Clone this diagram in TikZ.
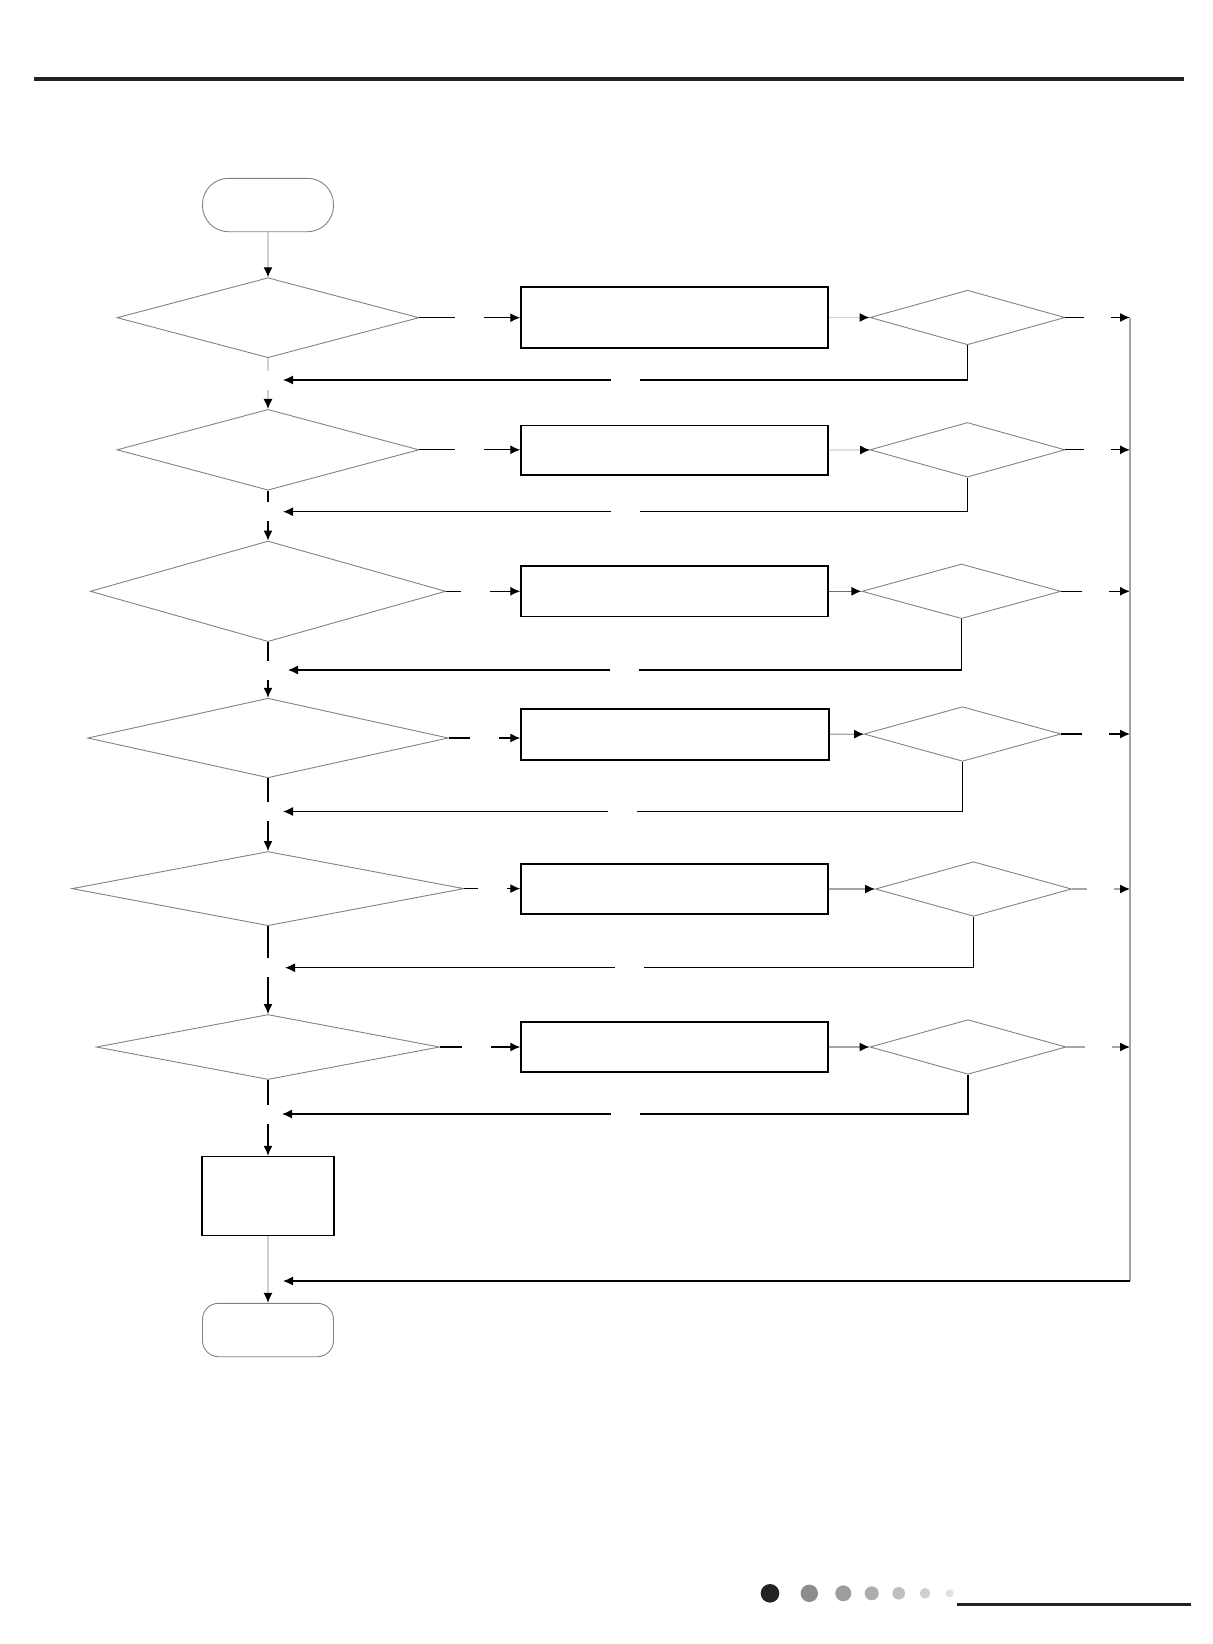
\documentclass[tikz,border=0pt]{standalone}
\usepackage{xcolor}
\usepackage{tikz}
\usetikzlibrary{shapes.geometric, arrows.meta}
\definecolor{outline}{HTML}{828282}
\definecolor{faint}{HTML}{D0D0D0}
\definecolor{midgray}{HTML}{707070}
\definecolor{softgray}{HTML}{A6A6A6}
\definecolor{rulegray}{HTML}{222222}

\begin{document}
\begin{tikzpicture}[
  x=0.5pt, y=-0.5pt,
  decision/.style={diamond, draw=outline, line width=0.45pt, inner sep=0pt},
  check/.style={diamond, draw=outline, line width=0.45pt, inner sep=0pt, minimum width=97.5pt, minimum height=27.3pt},
  action/.style={rectangle, draw=black, line width=0.75pt, inner sep=0pt, minimum width=153.5pt},
  terminal/.style={rectangle, draw=outline, line width=0.45pt, inner sep=0pt, minimum width=65.5pt, minimum height=26.7pt},
  flow/.style={line width=0.6pt, -{Latex[length=5pt,width=4.5pt,color=black]}},
  hgap/.style={fill=white, inner sep=0pt, minimum width=14.5pt, minimum height=3pt},
  vgap/.style={fill=white, inner sep=0pt, minimum width=3pt, minimum height=9.5pt},
]
\useasboundingbox (0,0) rectangle (1213,1644);

% page rule
\draw[line width=2pt, rulegray] (34,78.7) -- (1184,78.7);

\node[terminal, rounded corners=13pt] (start) at (268,205) {};

\node[decision, minimum width=151pt, minimum height=40pt] (d1) at (268,317.7) {};
\node[action, minimum height=30.5pt] (b1) at (674.5,317.5) {};
\node[check] (s1) at (967.5,317.5) {};
\coordinate (r1) at (283,380);

\node[decision, minimum width=151pt, minimum height=40.4pt] (d2) at (268,449.8) {};
\node[action, minimum height=24.7pt] (b2) at (674.5,450.3) {};
\node[check] (s2) at (967.5,449.8) {};
\coordinate (r2) at (283,511.7);

\node[decision, minimum width=177.7pt, minimum height=50.3pt] (d3) at (268,591.3) {};
\node[action, minimum height=25.2pt] (b3) at (674.5,591.3) {};
\node[check, minimum width=99.5pt] (s3) at (961.4,591.3) {};
\coordinate (r3) at (288,670);

\node[decision, minimum width=180.3pt, minimum height=39.8pt] (d4) at (268,738) {};
\node[action, minimum width=154pt, minimum height=25.6pt] (b4) at (675,734.4) {};
\node[check, minimum width=98.5pt] (s4) at (962.5,734) {};
\coordinate (r4) at (283,811.5);

\node[decision, minimum width=196pt, minimum height=37.1pt] (d5) at (268,888.6) {};
\node[action, minimum height=25pt] (b5) at (674.5,889) {};
\node[check, minimum width=98pt] (s5) at (973.5,889) {};
\coordinate (r5) at (285,967.7);

\node[decision, minimum width=171.7pt, minimum height=32.5pt] (d6) at (268,1047) {};
\node[action, minimum height=25.2pt] (b6) at (674.5,1047) {};
\node[check, minimum width=98pt] (s6) at (968,1047) {};
\coordinate (r6) at (282,1114);

\node[rectangle, draw=black, line width=0.75pt, minimum width=66pt, minimum height=39.5pt] (fin) at (268,1196) {};
\node[terminal, rounded corners=8pt] (end) at (268,1330) {};

\coordinate (railtop) at (1130,317.7);
\coordinate (railbot) at (1130,1281);
\coordinate (rend) at (283,1281);

% main column
\draw[flow, faint] (start) -- (d1);
\draw[flow, faint] (d1.south) -- (d1.south |- r1) node[vgap] {} -- (d2.north);
\draw[flow] (d2.south) -- (d2.south |- r2) node[vgap] {} -- (d3.north);
\draw[flow] (d3.south) -- (d3.south |- r3) node[vgap] {} -- (d4.north);
\draw[flow] (d4.south) -- (d4.south |- r4) node[vgap] {} -- (d5.north);
\draw[flow] (d5.south) -- (d5.south |- r5) node[vgap] {} -- (d6.north);
\draw[flow] (d6.south) -- (d6.south |- r6) node[vgap] {} -- (fin.north);
\draw[flow, faint] (fin) -- (end);

% decisions to actions
\draw[flow] (d1) -- node[hgap] {} (b1.west |- d1);
\draw[flow] (d2) -- node[hgap] {} (b2.west |- d2);
\draw[flow] (d3) -- node[hgap, pos=0.4] {} (b3.west |- d3);
\draw[flow] (d4) -- node[hgap] {} (b4.west |- d4);
\draw[flow] (d5) -- node[hgap] {} (b5.west |- d5);
\draw[flow] (d6) -- node[hgap, pos=0.45] {} (b6.west |- d6);

% actions to checks
\draw[flow, faint] (b1) -- (s1);
\draw[flow, faint] (b2) -- (s2);
\draw[flow, midgray] (b3) -- (s3);
\draw[flow, softgray] (b4) -- (s4);
\draw[flow, softgray] (b5) -- (s5);
\draw[flow, softgray] (b6) -- (s6);

% checks to rail
\draw[flow] (s1) -- node[hgap, minimum width=13.5pt] {} (s1 -| railtop);
\draw[flow] (s2) -- node[hgap, minimum width=13.5pt] {} (s2 -| railtop);
\draw[flow] (s3) -- node[hgap, minimum width=13.5pt] {} (s3 -| railtop);
\draw[flow] (s4) -- node[hgap, minimum width=13.5pt] {} (s4 -| railtop);
\draw[flow, softgray] (s5) -- node[hgap, minimum width=13.5pt] {} (s5 -| railtop);
\draw[flow, softgray] (s6) -- node[hgap, minimum width=13.5pt] {} (s6 -| railtop);

% checks back to the column
\draw[flow] (s1.south) |- node[hgap, pos=0.75] {} (r1);
\draw[flow] (s2.south) |- node[hgap, pos=0.75] {} (r2);
\draw[flow] (s3.south) |- node[hgap, pos=0.75] {} (r3);
\draw[flow] (s4.south) |- node[hgap, pos=0.75] {} (r4);
\draw[flow] (s5.south) |- node[hgap, pos=0.75] {} (r5);
\draw[flow] (s6.south) |- node[hgap, pos=0.75] {} (r6);

% rail
\draw[softgray, line width=0.6pt] (railtop) -- (railbot);
\draw[flow] (railbot) -- (rend);

% footer
\fill[rulegray] (770,1593.3) circle (9.3);
\fill[black!45] (809.3,1593.3) circle (8.7);
\fill[black!38] (843.3,1593.3) circle (8);
\fill[black!32] (871.7,1593.3) circle (7);
\fill[black!25] (898.7,1593.3) circle (6.3);
\fill[black!19] (925,1593.3) circle (5.3);
\fill[black!12] (949.7,1593.3) circle (4);
\draw[line width=1.2pt, rulegray] (956.7,1604.3) -- (1190.7,1604.3);
\end{tikzpicture}
\end{document}
